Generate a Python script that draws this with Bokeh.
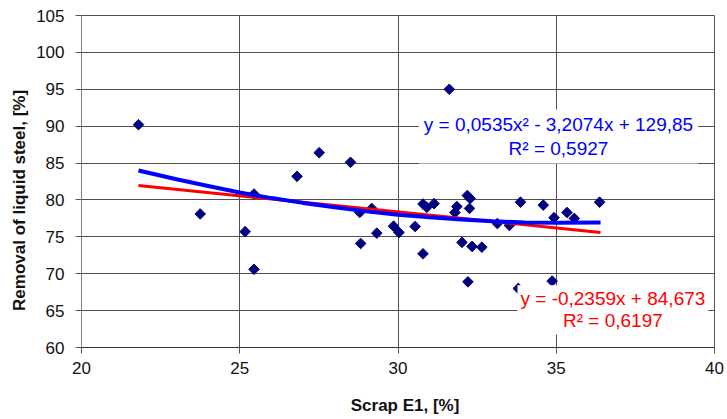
import numpy as np
from bokeh.plotting import figure
from bokeh.models import Label, FixedTicker, Range1d
from bokeh.embed import file_html
from bokeh.resources import INLINE

# ---- data ----
scrap_e1 = [21.8, 23.75, 25.17, 25.45, 25.45, 26.81, 27.51, 28.5, 28.82, 28.79,
            29.17, 29.33, 29.86, 30.03, 30.54, 30.79, 30.79, 30.91, 31.14, 31.62,
            31.8, 31.86, 32.02, 32.19, 32.28, 32.26, 32.21, 32.34, 32.65, 33.14,
            33.52, 33.8, 33.87, 34.59, 34.93, 34.87, 35.34, 35.57, 36.37]
removal = [90.2, 78.1, 75.7, 80.8, 70.6, 83.2, 86.4, 85.1, 74.1, 78.3,
           78.85, 75.5, 76.45, 75.6, 76.4, 72.7, 79.45, 79.0, 79.5, 95.0,
           78.3, 79.1, 74.25, 80.6, 80.2, 78.85, 68.9, 73.7, 73.6, 76.8,
           76.55, 68.0, 79.7, 79.3, 77.6, 69.0, 78.3, 77.5, 79.7]

poly_x = [21.8, 23, 24, 25, 26, 27, 28, 29, 30, 31, 32, 33, 34, 35, 36.4]
poly_y = [84.0, 82.8, 81.9, 81.0, 80.25, 79.6, 79.0, 78.45, 78.0, 77.65,
          77.35, 77.1, 76.95, 76.9, 76.95]
lin_x = [21.8, 36.4]
lin_y = [81.95, 75.6]

x_ticks = [20, 25, 30, 35, 40]
y_ticks = [60, 65, 70, 75, 80, 85, 90, 95, 100, 105]

x_title = "Scrap  E1, [%]"
y_title = "Removal of liquid steel, [%]"
poly_text = "y = 0,0535x\u00b2 - 3,2074x + 129,85\nR\u00b2 = 0,5927"
lin_text = "y = -0,2359x + 84,673\nR\u00b2 = 0,6197"

FONT = "Liberation Sans"
GRID = "#505050"
NB = "\u00a0"

p = figure(width=727, height=419, output_backend="svg", toolbar_location=None,
           x_range=Range1d(20, 40), y_range=Range1d(60, 105),
           min_border_left=81, min_border_right=13, min_border_top=15,
           min_border_bottom=72)
p.background_fill_color = "white"
p.border_fill_color = "white"
p.outline_line_color = GRID
p.outline_line_width = 1

p.xaxis.ticker = FixedTicker(ticks=x_ticks)
p.yaxis.ticker = FixedTicker(ticks=y_ticks)
for ax in (p.xaxis[0], p.yaxis[0]):
    ax.major_label_text_font = FONT
    ax.major_label_text_font_size = "17px"
    ax.major_label_text_color = "#111111"
    ax.axis_label_text_font = FONT
    ax.axis_label_text_font_size = "17px"
    ax.axis_label_text_font_style = "bold"
    ax.axis_label_text_color = "#111111"
    ax.major_tick_in = 0
    ax.major_tick_out = 6
    ax.minor_tick_in = 0
    ax.minor_tick_out = 0
    ax.major_tick_line_color = "#555555"

# non-breaking spaces nudge the titles to the reference's off-centre spots
p.xaxis.axis_label = NB * 4 + x_title
p.yaxis.axis_label = y_title + NB * 8
p.xaxis.axis_line_color = "#333333"
p.yaxis.axis_line_color = "#808080"
p.xaxis.major_label_standoff = 8
p.yaxis.major_label_standoff = 11
p.xaxis.axis_label_standoff = 19
p.yaxis.axis_label_standoff = 4

p.xgrid.grid_line_color = GRID
p.ygrid.grid_line_color = GRID
p.xgrid.ticker = FixedTicker(ticks=x_ticks)
p.ygrid.ticker = FixedTicker(ticks=y_ticks)

p.scatter(scrap_e1, removal, marker="square", angle=np.pi / 4, size=7.5,
          fill_color="#000080", line_color="#000080")
p.line(lin_x, lin_y, line_color="#ff0000", line_width=3)
p.line(poly_x, poly_y, line_color="#0000ff", line_width=4)

lab1 = Label(x=35.07, y=88.6, text=poly_text, text_align="center",
             text_baseline="middle", text_font=FONT, text_font_size="19px",
             text_line_height=1.1,
             text_color="#0000ff", background_fill_color="white",
             padding=5)
lab2 = Label(x=36.79, y=65.1, text=lin_text, text_align="center",
             text_baseline="middle", text_font=FONT, text_font_size="19px",
             text_line_height=1.05,
             text_color="#ff0000", background_fill_color="white",
             padding=3)
p.add_layout(lab1)
p.add_layout(lab2)

open("out.html", "w").write(file_html(p, INLINE))
